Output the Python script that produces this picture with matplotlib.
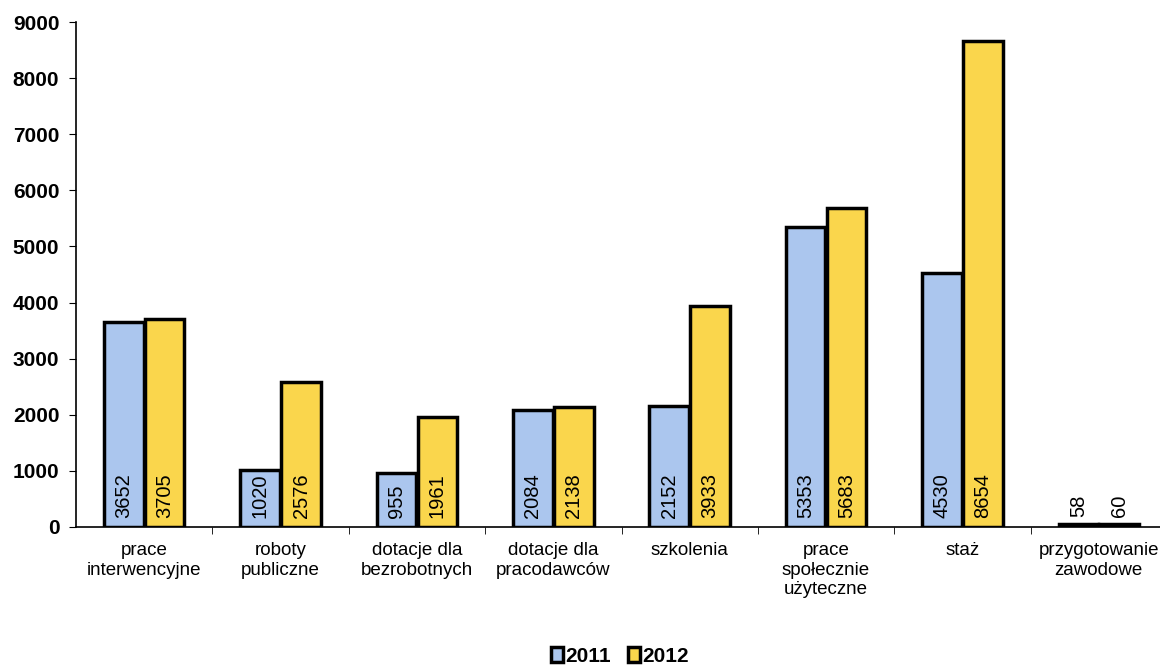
import numpy as np
import matplotlib.pyplot as plt

# categories and values
kategorie = ['prace\ninterwencyjne', 'roboty\npubliczne', 'dotacje dla\nbezrobotnych',
             'dotacje dla\npracodawców', 'szkolenia', 'prace\nspołecznie\nużyteczne',
             'staż', 'przygotowanie\nzawodowe']
v2011 = [3652, 1020, 955, 2084, 2152, 5353, 4530, 58]
v2012 = [3705, 2576, 1961, 2138, 3933, 5683, 8654, 60]
yticks = [0, 1000, 2000, 3000, 4000, 5000, 6000, 7000, 8000, 9000]

plt.rcParams['font.family'] = ['Liberation Sans', 'DejaVu Sans']

fig = plt.figure(figsize=(11.6, 6.65), dpi=100)
# axis runs past the right edge, like in the scan
ax = fig.add_axes([76/1160, 138/665, 1091/1160, 505/665])

x = np.arange(len(kategorie))
w = 0.29
b1 = ax.bar(x - w/2 - 0.005, v2011, w, color='#abc6ee', edgecolor='black', linewidth=2.5, label='2011')
b2 = ax.bar(x + w/2 + 0.005, v2012, w, color='#fad64c', edgecolor='black', linewidth=2.5, label='2012')

# value labels, rotated, at the bottom of the bars
for bars, vals in ((b1, v2011), (b2, v2012)):
    for r, v in zip(bars, vals):
        ypos = 160 if v > 800 else v + 120
        ax.text(r.get_x() + r.get_width()/2, ypos, str(v), rotation=90,
                ha='center', va='bottom', fontsize=14.5)

ax.set_xlim(-0.5, len(kategorie) - 0.5)
ax.set_ylim(0, 9000)
ax.set_yticks(yticks)
ax.set_yticklabels([str(t) for t in yticks], fontsize=15, fontweight='bold')
ax.set_xticks(x)
ax.set_xticklabels(kategorie, fontsize=13.5, linespacing=1.2, va='top')
ax.set_xticks(np.arange(len(kategorie)) + 0.5, minor=True)
ax.tick_params(axis='x', which='major', length=0, pad=11)
ax.tick_params(axis='x', which='minor', length=5, direction='out')
ax.tick_params(axis='y', length=5, direction='out', pad=7)

ax.spines['top'].set_visible(False)
ax.spines['right'].set_visible(False)
ax.spines['left'].set_linewidth(1.2)
ax.spines['bottom'].set_linewidth(1.2)

leg = fig.legend(handles=[b1, b2], loc='center', bbox_to_anchor=(620/1160, 1 - 656/665),
                 ncol=2, frameon=False, handlelength=0.6, handleheight=0.7,
                 handletextpad=0.1, columnspacing=0.8, prop={'size': 15, 'weight': 'bold'})

fig.savefig('out.png', dpi=100)
